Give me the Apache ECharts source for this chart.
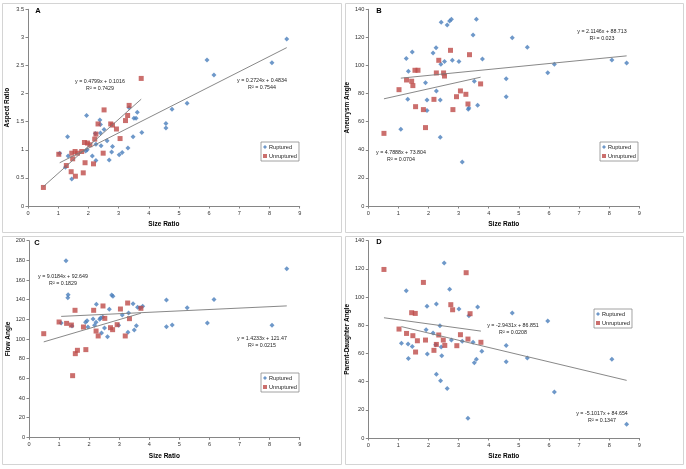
<!DOCTYPE html>
<html>
<head>
<meta charset="utf-8">
<script src="https://cdn.jsdelivr.net/npm/echarts@6/dist/echarts.min.js"></script>
<style>html,body{margin:0;padding:0;background:#fff}#c{width:686px;height:469px}</style>
</head>
<body>
<div id="c"></div>
<script>
// ---- Data (Size Ratio, value) ----
const aRuptured = [[1.05,0.94],[1.31,1.23],[1.33,0.89],[1.24,0.69],[1.45,0.48],[1.94,1.61],[1.91,0.98],[1.96,1.0],[2.13,0.89],[2.25,1.1],[2.23,1.29],[2.25,0.81],[2.38,1.53],[2.40,1.45],[2.40,1.30],[2.42,1.07],[2.52,1.36],[2.62,1.16],[2.69,0.82],[2.77,0.96],[2.80,1.06],[3.02,0.91],[3.12,0.95],[3.31,1.03],[3.35,1.75],[3.48,1.23],[3.51,1.56],[3.58,1.56],[3.62,1.67],[3.77,1.31],[4.57,1.47],[4.57,1.39],[4.77,1.72],[5.27,1.83],[5.93,2.60],[6.16,2.33],[8.08,2.55],[8.57,2.97]];
const aUnruptured = [[0.51,0.33],[1.02,0.92],[1.27,0.72],[1.43,0.61],[1.45,0.94],[1.48,0.84],[1.56,0.97],[1.57,0.53],[1.64,0.94],[1.78,0.97],[1.83,0.59],[1.87,1.13],[1.89,0.77],[1.97,1.12],[2.05,1.09],[2.17,0.75],[2.21,1.19],[2.25,1.28],[2.32,1.46],[2.49,0.94],[2.52,1.71],[2.74,1.46],[2.80,1.44],[2.93,1.37],[3.05,1.20],[3.23,1.52],[3.30,1.61],[3.35,1.79],[3.75,2.27]];

const bRuptured = [[1.08,54.6],[1.26,104.9],[1.33,95.9],[1.31,75.9],[1.46,109.6],[1.90,87.8],[1.95,67.9],[1.95,75.5],[2.15,108.9],[2.25,112.7],[2.26,81.9],[2.39,75.5],[2.42,130.8],[2.39,48.9],[2.41,100.9],[2.53,102.8],[2.62,128.9],[2.70,131.7],[2.76,132.9],[2.79,103.7],[3.01,102.8],[3.12,31.3],[3.32,68.8],[3.34,69.8],[3.48,121.7],[3.52,88.8],[3.59,132.9],[3.63,71.7],[3.79,104.7],[4.58,90.6],[4.58,77.8],[4.78,119.8],[5.28,113.0],[5.96,94.9],[6.18,100.9],[8.09,103.9],[8.58,101.8]];
const bUnruptured = [[0.52,51.7],[1.02,82.8],[1.27,89.7],[1.44,88.8],[1.48,85.7],[1.55,96.6],[1.65,96.6],[1.57,70.7],[1.83,68.6],[1.90,55.8],[2.18,75.9],[2.26,94.7],[2.34,103.7],[2.50,94.7],[2.53,92.5],[2.73,110.8],[2.81,68.6],[2.93,77.8],[3.06,81.9],[3.24,79.5],[3.31,72.6],[3.36,107.7],[3.73,86.9]];

const cRuptured = [[1.07,116.3],[1.23,179.7],[1.30,145.1],[1.29,142.0],[1.43,113.2],[1.88,117],[1.93,118.6],[1.96,112.2],[2.13,120.3],[2.18,113.9],[2.23,117],[2.24,135.3],[2.35,120],[2.38,121.4],[2.41,106.1],[2.45,122.4],[2.51,111.2],[2.61,102.4],[2.67,130.2],[2.75,144.7],[2.79,143.4],[2.98,113.9],[3.10,124.4],[3.29,106.8],[3.31,126.4],[3.46,135.9],[3.50,109.2],[3.57,113.6],[3.61,132.2],[3.69,131.5],[3.78,133.2],[4.57,139.7],[4.57,112.5],[4.76,114.2],[5.26,131.9],[5.93,116.3],[6.15,140.3],[8.08,113.9],[8.57,171.5]];
const cUnruptured = [[0.49,105.4],[1.0,117.3],[1.25,115.9],[1.41,114.2],[1.45,62.7],[1.53,129.2],[1.54,85.1],[1.61,88.5],[1.81,112.2],[1.89,89.2],[2.15,129.2],[2.23,108.1],[2.30,103.1],[2.46,133.6],[2.52,121],[2.71,111.5],[2.78,109.5],[2.93,114.6],[3.04,130.5],[3.20,103.1],[3.28,136.6],[3.34,120.7],[3.72,131.2]];

const dRuptured = [[1.10,67.2],[1.26,104.5],[1.32,66.7],[1.33,56.5],[1.46,65.0],[1.92,76.9],[1.95,93.4],[1.96,59.6],[2.15,74.5],[2.24,66.2],[2.26,95.1],[2.26,45.2],[2.38,79.7],[2.40,40.7],[2.42,64.6],[2.44,58.4],[2.52,124.1],[2.62,35.2],[2.70,105.5],[2.76,69.5],[3.01,91.5],[3.12,68.6],[3.31,14.0],[3.34,86.8],[3.48,67.9],[3.52,53.4],[3.59,55.8],[3.63,92.9],[3.77,61.5],[4.78,88.7],[4.58,65.7],[4.58,54.1],[5.28,56.8],[5.96,83.0],[6.18,32.6],[8.09,55.8],[8.58,9.7]];
const dUnruptured = [[0.52,119.6],[1.02,77.3],[1.27,74.2],[1.44,88.9],[1.56,88.4],[1.48,72.6],[1.63,69.0],[1.57,61.0],[1.83,110.4],[1.90,69.5],[2.18,62.2],[2.26,66.4],[2.34,73.1],[2.49,69.5],[2.54,65.7],[2.74,94.6],[2.80,91.0],[2.94,65.5],[3.06,73.3],[3.25,117.3],[3.31,70.2],[3.38,88.2],[3.74,67.9]];

const panelLabels = ['A','B','C','D'];
const yTitles = ['Aspect Ratio','Aneurysm Angle','Flow Angle','Parent-Daughter Angle'];
const xTitle = 'Size Ratio';
const yMax = [3.5,140,200,140];
const yStep = [0.5,20,20,20];
const rupturedSets = [aRuptured,bRuptured,cRuptured,dRuptured];
const unrupturedSets = [aUnruptured,bUnruptured,cUnruptured,dUnruptured];
// trend line coefficients [slope, intercept, R2]
const rupturedTrend = [[0.2724,0.4834,'0.7544'],[2.1146,88.713,'0.023'],[1.4233,121.47,'0.0215'],[-5.1017,84.654,'0.1347']];
const unrupturedTrend = [[0.4799,0.1016,'0.7429'],[4.7888,73.804,'0.0704'],[9.0184,92.649,'0.1829'],[-2.9431,86.851,'0.0208']];

// ---- Layout ----
const grids = [
  {left:28, top:9.3, width:271.7, height:196.7},
  {left:368.3, top:9.3, width:271, height:196.7},
  {left:29, top:240.7, width:270.7, height:196.6},
  {left:368.3, top:240.7, width:271, height:197.3}
];
const boxes = [[2,3,339,229],[345,3,338,229],[2,236,339,228],[345,236,338,228]];
const legendPos = [[261,142],[600,142],[261,373],[594,309]];
const labelPos = [[38,11],[379,11],[37,243],[379,242]];
const rupEqPos = [[262,81],[602,32],[262,339],[602,414]];
const unrEqPos = [[100,82],[401,153],[63,277],[513,326]];

const FONT = '"Liberation Sans", Arial, sans-serif';
const AXC = '#868686';
const BLUE = '#4A7EBB';
const RED = '#BE4B48';
const TREND = '#7a7a7a';

function eq(t){
  const s = t[0], b = t[1];
  return 'y = ' + s + 'x ' + (b < 0 ? '- ' : '+ ') + Math.abs(b);
}
function trendLine(t, data){
  const xs = data.map(d => d[0]);
  const x0 = Math.min(...xs), x1 = Math.max(...xs);
  return [[x0, t[0]*x0 + t[1]], [x1, t[0]*x1 + t[1]]];
}

const xAxis = [], yAxis = [], series = [], legend = [], graphic = [];
for (let i = 0; i < 4; i++) {
  xAxis.push({
    type:'value', gridIndex:i, min:0, max:9, interval:1,
    name:xTitle, nameLocation:'middle', nameGap:15,
    nameTextStyle:{fontFamily:FONT, fontSize:6.5, fontWeight:'bold', color:'#000'},
    axisLine:{show:true, lineStyle:{color:AXC, width:1}},
    axisTick:{show:true, length:2.5, lineStyle:{color:AXC}},
    axisLabel:{fontFamily:FONT, fontSize:5.6, color:'#333', margin:4},
    splitLine:{show:false}
  });
  yAxis.push({
    type:'value', gridIndex:i, min:0, max:yMax[i], interval:yStep[i],
    name:yTitles[i], nameLocation:'middle', nameGap:17, nameRotate:90,
    nameTextStyle:{fontFamily:FONT, fontSize:6.5, fontWeight:'bold', color:'#000'},
    axisLine:{show:true, lineStyle:{color:AXC, width:1}},
    axisTick:{show:true, length:2.5, lineStyle:{color:AXC}},
    axisLabel:{fontFamily:FONT, fontSize:5.6, color:'#333', margin:4},
    splitLine:{show:false}
  });
  series.push({
    name:'Ruptured', type:'scatter', xAxisIndex:i, yAxisIndex:i,
    data:rupturedSets[i], symbol:'diamond', symbolSize:5,
    itemStyle:{color:BLUE}, z:3
  });
  series.push({
    name:'Unruptured', type:'scatter', xAxisIndex:i, yAxisIndex:i,
    data:unrupturedSets[i], symbol:'rect', symbolSize:5,
    itemStyle:{color:RED}, z:3
  });
  series.push({
    name:'trendR'+i, type:'line', xAxisIndex:i, yAxisIndex:i,
    data:trendLine(rupturedTrend[i], rupturedSets[i]), symbol:'none', silent:true,
    lineStyle:{color:TREND, width:0.9}, z:4
  });
  series.push({
    name:'trendU'+i, type:'line', xAxisIndex:i, yAxisIndex:i,
    data:trendLine(unrupturedTrend[i], unrupturedSets[i]), symbol:'none', silent:true,
    lineStyle:{color:TREND, width:0.9}, z:4
  });
  legend.push({
    data:[{name:'Ruptured', icon:'diamond'},{name:'Unruptured', icon:'rect'}],
    orient:'vertical', left:legendPos[i][0], top:legendPos[i][1],
    itemWidth:4, itemHeight:4, itemGap:3, padding:[2,2,2,2],
    backgroundColor:'#fff', borderColor:'#8c8c8c', borderWidth:0.8, borderRadius:0,
    textStyle:{fontFamily:FONT, fontSize:5.6, color:'#222', padding:[0,0,0,-3]},
    selectedMode:false
  });
  const b = boxes[i];
  graphic.push({type:'rect', shape:{x:b[0]+0.5, y:b[1]+0.5, width:b[2], height:b[3]},
    style:{fill:'none', stroke:'#d4d4d4', lineWidth:1}, silent:true, z:-1});
  graphic.push({type:'text', x:labelPos[i][0], y:labelPos[i][1],
    style:{text:panelLabels[i], fill:'#000', font:'bold 7.5px ' + FONT, align:'center', verticalAlign:'middle'}});
  const rt = rupturedTrend[i], ut = unrupturedTrend[i];
  graphic.push({type:'text', x:rupEqPos[i][0], y:rupEqPos[i][1],
    style:{text:eq(rt), fill:'#222', font:'5.3px ' + FONT, align:'center', verticalAlign:'middle'}});
  graphic.push({type:'text', x:rupEqPos[i][0], y:rupEqPos[i][1]+7,
    style:{text:'R\u00b2 = ' + rt[2], fill:'#222', font:'5.3px ' + FONT, align:'center', verticalAlign:'middle'}});
  graphic.push({type:'text', x:unrEqPos[i][0], y:unrEqPos[i][1],
    style:{text:eq(ut), fill:'#222', font:'5.3px ' + FONT, align:'center', verticalAlign:'middle'}});
  graphic.push({type:'text', x:unrEqPos[i][0], y:unrEqPos[i][1]+7,
    style:{text:'R\u00b2 = ' + ut[2], fill:'#222', font:'5.3px ' + FONT, align:'center', verticalAlign:'middle'}});
}

const chart = echarts.init(document.getElementById('c'), null, {renderer:'canvas'});
chart.setOption({
  backgroundColor:'#fff',
  animation:false,
  grid:grids,
  xAxis:xAxis, yAxis:yAxis, series:series, legend:legend, graphic:graphic
});
</script>
</body>
</html>
